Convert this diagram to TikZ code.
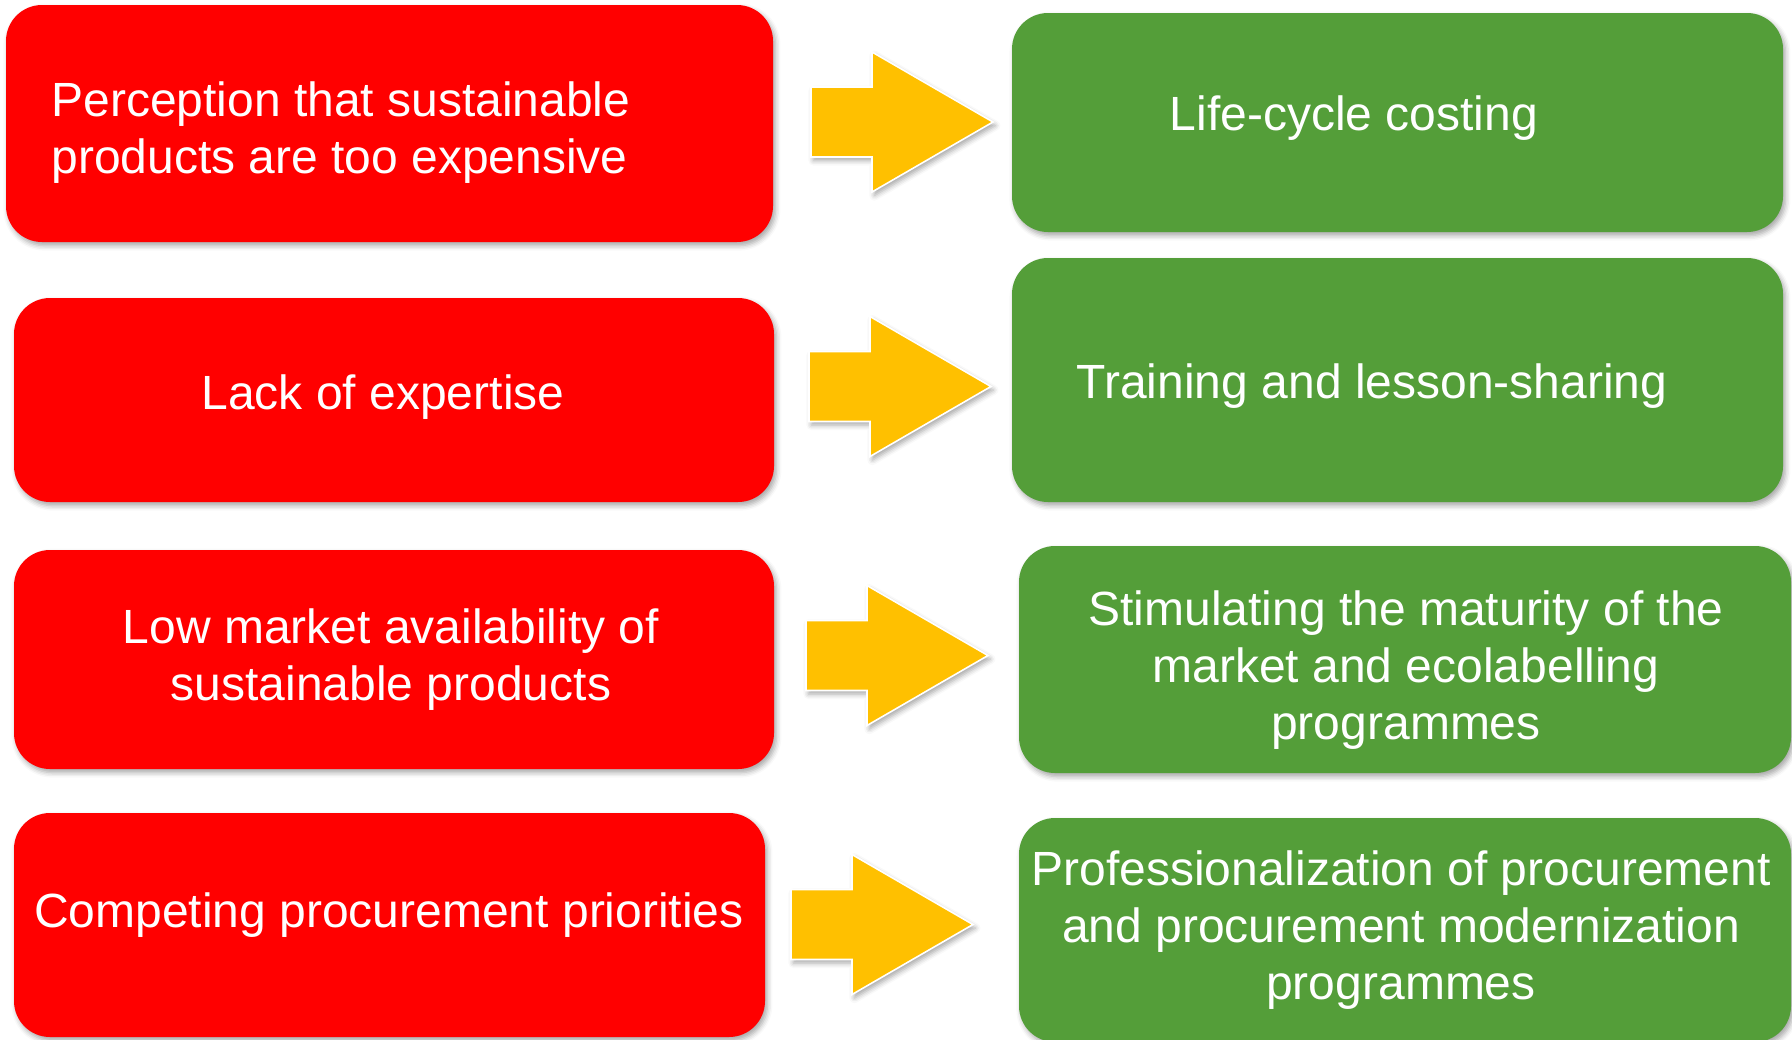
\documentclass[tikz,border=0pt]{standalone}
\usepackage{fontspec}
\setmainfont{Liberation Sans}
\usetikzlibrary{shadows.blur}
\definecolor{boxred}{HTML}{FF0000}
\definecolor{boxgreen}{HTML}{549E39}
\definecolor{arrowyellow}{HTML}{FFC000}
\newcommand\yarrow[2]{%
  \begin{scope}[shift={(#1,#2)}]
    \path[blockarrow] (0,-35) -- (61,-35) -- (61,-70) -- (182,0) -- (61,70) -- (61,35) -- (0,35) -- cycle;
  \end{scope}}
\begin{document}
\begin{tikzpicture}[x=0.5pt,y=-0.5pt,
  box/.style={rounded corners=18pt, inner sep=0pt, outer sep=0pt,
    blur shadow={shadow xshift=1.2pt, shadow yshift=-1.8pt, shadow blur radius=2.5pt, shadow opacity=35}},
  redbox/.style={box, fill=boxred},
  greenbox/.style={box, fill=boxgreen},
  lbl/.style={text=white, font=\fontsize{24}{28.5}\selectfont, inner sep=0pt, align=center, anchor=base},
  blockarrow/.style={fill=arrowyellow, draw=white, line width=0.8pt, line join=miter,
    blur shadow={shadow xshift=1.2pt, shadow yshift=-1.8pt, shadow blur radius=2.5pt, shadow opacity=35}}
]
\useasboundingbox (0,0) rectangle (1792,1039);
% red boxes
\node[redbox, minimum width=383.5pt, minimum height=118.5pt] (r1) at (389.5,123.5) {};
\node[redbox, minimum width=380pt, minimum height=102pt] (r2) at (394,400) {};
\node[redbox, minimum width=380pt, minimum height=109.5pt] (r3) at (394,659.5) {};
\node[redbox, minimum width=375.5pt, minimum height=112pt] (r4) at (389.5,925) {};
% green boxes
\node[greenbox, minimum width=385.5pt, minimum height=109.5pt] (g1) at (1397.5,122.5) {};
\node[greenbox, minimum width=385.5pt, minimum height=122pt] (g2) at (1397.5,380) {};
\node[greenbox, minimum width=386pt, minimum height=113.5pt] (g3) at (1405,659.5) {};
\node[greenbox, minimum width=386pt, minimum height=112pt] (g4) at (1405,930) {};
% arrows
\yarrow{811}{122}
\yarrow{809}{386.5}
\yarrow{806}{655.5}
\yarrow{791}{924.5}
% labels (base anchor = baseline of the last line)
\node[lbl, anchor=base west, align=left] (t1) at (51,173) {Perception that sustainable\\products are too expensive};
\node[lbl] (t2) at (383,409) {Lack of expertise};
\node[lbl] (t3) at (391,700) {Low market availability of\\sustainable products};
\node[lbl] (t4) at (389,927) {Competing procurement priorities};
\node[lbl] (u1) at (1354,130) {Life-cycle costing};
\node[lbl] (u2) at (1372,398) {Training and lesson-sharing};
\node[lbl] (u3) at (1406,739) {Stimulating the maturity of the\\market and ecolabelling\\programmes};
\node[lbl] (u4) at (1401,999) {Professionalization of procurement\\and procurement modernization\\programmes};
\end{tikzpicture}
\end{document}
